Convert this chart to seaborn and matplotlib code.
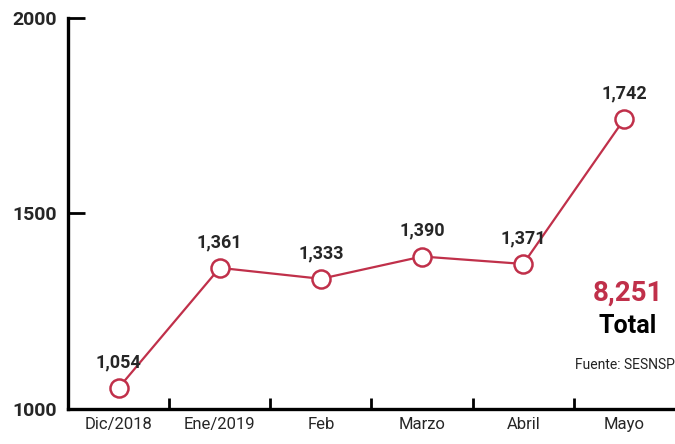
import matplotlib
matplotlib.use("Agg")
import matplotlib.pyplot as plt
import seaborn as sns
import pandas as pd

months = ["Dic/2018", "Ene/2019", "Feb", "Marzo", "Abril", "Mayo"]
values = [1054, 1361, 1333, 1390, 1371, 1742]
total_label = "8,251"
source = "Fuente: SESNSP"

red = "#C0304A"

sns.set_style("white")
plt.rcParams["font.family"] = ["Roboto", "DejaVu Sans"]

df = pd.DataFrame({"mes": months, "valor": values, "pos": range(len(months))})

fig = plt.figure(figsize=(6.75, 4.44), dpi=100)
ax = fig.add_axes([68 / 675, 35 / 444, 1 - 68 / 675, 391 / 444])

sns.lineplot(data=df, x="pos", y="valor", ax=ax, color=red, linewidth=1.6,
             marker="o", markersize=13, markerfacecolor="white",
             markeredgecolor=red, markeredgewidth=1.8)

for x, v in zip(df["pos"], df["valor"]):
    ax.annotate(f"{v:,}", (x, v), xytext=(0, 12), textcoords="offset points",
                ha="center", va="bottom", fontsize=13, fontweight="bold")

ax.set_xlim(-0.5, len(months) - 0.5)
ax.set_ylim(1000, 2000)
ax.set_yticks([1000, 1500, 2000])
ax.set_yticklabels(["1000", "1500", "2000"], fontsize=14, fontweight="bold")

# category labels at centers, tick marks at boundaries
ax.set_xticks(range(len(months)))
ax.set_xticklabels(months, fontsize=12)
ax.tick_params(axis="x", which="major", bottom=True, length=0, pad=6)
ax.set_xticks([i + 0.5 for i in range(len(months) - 1)], minor=True)
ax.tick_params(axis="x", which="minor", bottom=True, direction="in",
               length=8, width=2, color="black")
ax.tick_params(axis="y", left=True, direction="in", length=12, width=2,
               color="black", pad=8)

for s in ["top", "right"]:
    ax.spines[s].set_visible(False)
for s in ["left", "bottom"]:
    ax.spines[s].set_linewidth(2.4)
    ax.spines[s].set_color("black")

ax.set_xlabel("")
ax.set_ylabel("")

fig.text(628 / 675, 1 - 293 / 444, total_label, color=red, fontsize=20,
         fontweight="bold", ha="center", va="center")
fig.text(628 / 675, 1 - 326 / 444, "Total", color="black", fontsize=18,
         fontweight="bold", ha="center", va="center")
fig.text(1.0, 1 - 365 / 444, source, color="#222222", fontsize=10,
         ha="right", va="center")

fig.savefig("out.png", dpi=100)
